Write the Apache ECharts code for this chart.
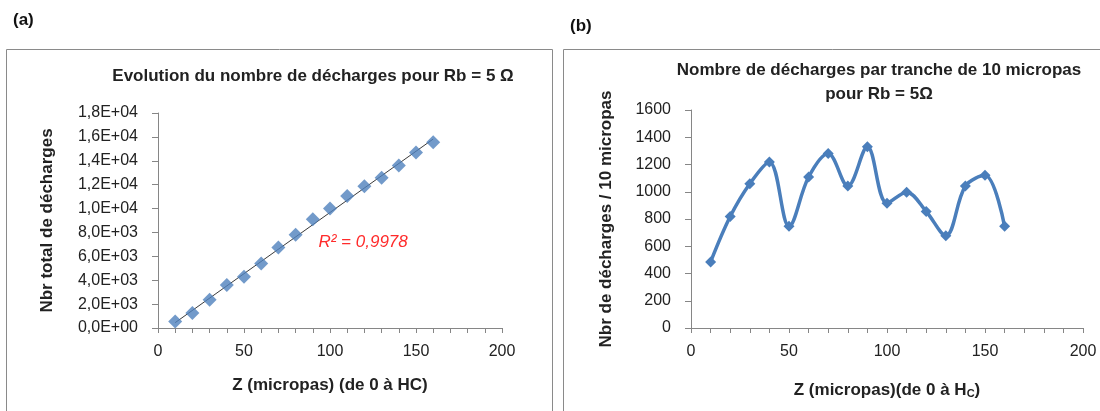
<!DOCTYPE html>
<html>
<head>
<meta charset="utf-8">
<script src="https://cdn.jsdelivr.net/npm/echarts@6/dist/echarts.min.js"></script>
<style>
html,body{margin:0;padding:0;background:#fff;}
#c{width:1100px;height:411px;}
</style>
</head>
<body>
<div id="c"></div>
<script>
// ---- data ----
var zValues = [10,20,30,40,50,60,70,80,90,100,110,120,130,140,150,160];
var cumulDischarges = [550,1250,2360,3600,4300,5400,6750,7800,9100,10000,11050,11860,12580,13600,14700,15550];
var trendZ = [10,160];
var trendValues = [450,15820];
var dischargesPer10 = [485,818,1059,1219,746,1108,1281,1042,1330,916,997,855,677,1042,1121,746];
var xTickLabels = ['0','50','100','150','200'];
var yTickLabelsA = ['0,0E+00','2,0E+03','4,0E+03','6,0E+03','8,0E+03','1,0E+04','1,2E+04','1,4E+04','1,6E+04','1,8E+04'];
var yTickLabelsB = ['0','200','400','600','800','1000','1200','1400','1600'];
var r2Text = 'R² = 0,9978';
var r2Anchor = [93, 7200];

var FONT = 'Liberation Sans, Arial, sans-serif';
var TXT = '#222222';
var AXIS = '#868686';
var BLUE = '#4F81BD';

function pairs(xs, ys){ return xs.map(function(x,i){ return [x, ys[i]]; }); }
function xFmt(v){ return (v % 50 === 0) ? xTickLabels[v/50] : ''; }

var axisCommon = {
  axisLine:{show:true, lineStyle:{color:AXIS, width:1}},
  axisTick:{show:true, inside:false, length:5, lineStyle:{color:AXIS}},
  splitLine:{show:false},
  nameTextStyle:{fontFamily:FONT, fontSize:17, fontWeight:'bold', color:TXT}
};
function mk(o){ var r = JSON.parse(JSON.stringify(axisCommon)); for (var k in o) r[k]=o[k]; return r; }

var chart = echarts.init(document.getElementById('c'), null, {renderer:'canvas'});
chart.setOption({
  animation:false,
  backgroundColor:'#fff',
  title:[
    {text:'Evolution du nombre de décharges pour Rb = 5 Ω', left:308, top:63, textAlign:'center',
     textStyle:{fontFamily:FONT, fontSize:17, fontWeight:'bold', color:TXT}},
    {text:'Nombre de décharges par tranche de 10 micropas\npour Rb = 5Ω', left:874, top:53, textAlign:'center',
     textStyle:{fontFamily:FONT, fontSize:17, fontWeight:'bold', color:TXT, lineHeight:24}}
  ],
  graphic:[
    {type:'rect', shape:{x:6.5, y:49.5, width:546, height:400}, style:{fill:'none', stroke:'#8a8a8a', lineWidth:1}},
    {type:'rect', shape:{x:563.5, y:49.5, width:560, height:400}, style:{fill:'none', stroke:'#8a8a8a', lineWidth:1}},
    {type:'text', left:13, top:12, style:{text:'(a)', fontFamily:FONT, fontSize:17, fontWeight:'bold', fill:'#111'}},
    {type:'text', left:570, top:18, style:{text:'(b)', fontFamily:FONT, fontSize:17, fontWeight:'bold', fill:'#111'}}
  ],
  grid:[
    {left:158, top:113, width:344, height:215, outerBoundsMode:'none', containLabel:false},
    {left:691, top:110, width:392, height:218, outerBoundsMode:'none', containLabel:false}
  ],
  xAxis:[
    mk({gridIndex:0, type:'value', min:0, max:200, interval:10,
      name:'Z (micropas) (de 0 à HC)', nameLocation:'middle', nameGap:49,
      axisLabel:{formatter:xFmt, fontFamily:FONT, fontSize:16, color:TXT, margin:16, showMinLabel:true, showMaxLabel:true}}),
    mk({gridIndex:1, type:'value', min:0, max:200, interval:10,
      name:'{a|Z (micropas)(de 0 à H}{s|C}{a|)}', nameLocation:'middle', nameGap:53,
      nameTextStyle:{rich:{
        a:{fontFamily:FONT, fontSize:17, fontWeight:'bold', color:TXT, lineHeight:18, verticalAlign:'bottom'},
        s:{fontFamily:FONT, fontSize:11, fontWeight:'bold', color:TXT, lineHeight:6, verticalAlign:'bottom'}
      }},
      axisLabel:{formatter:xFmt, fontFamily:FONT, fontSize:16, color:TXT, margin:16, showMinLabel:true, showMaxLabel:true}})
  ],
  yAxis:[
    mk({gridIndex:0, type:'value', min:0, max:18000, interval:2000,
      name:'Nbr total de décharges', nameLocation:'middle', nameGap:102,
      axisTick:{show:true, length:6, lineStyle:{color:AXIS}},
      axisLabel:{formatter:function(v){ return yTickLabelsA[Math.round(v/2000)]; }, fontFamily:FONT, fontSize:16, color:TXT, margin:20}}),
    mk({gridIndex:1, type:'value', min:0, max:1600, interval:200,
      name:'Nbr de décharges / 10 micropas', nameLocation:'middle', nameGap:76,
      axisTick:{show:true, length:6, lineStyle:{color:AXIS}},
      axisLabel:{formatter:function(v){ return yTickLabelsB[Math.round(v/200)]; }, fontFamily:FONT, fontSize:16, color:TXT, margin:20}})
  ],
  series:[
    {type:'line', xAxisIndex:0, yAxisIndex:0, data:pairs(trendZ, trendValues), symbol:'none',
     lineStyle:{color:'#3a3a3a', width:1}, z:2,
     markPoint:{symbol:'rect', symbolSize:1, itemStyle:{color:'rgba(0,0,0,0)'},
       label:{show:true, position:'right', distance:0, formatter:r2Text, fontFamily:FONT, fontSize:17, fontStyle:'italic', color:'#ff2b2b'},
       data:[{coord:r2Anchor}]}},
    {type:'scatter', xAxisIndex:0, yAxisIndex:0, data:pairs(zValues, cumulDischarges), symbol:'diamond', symbolSize:[14,14],
     itemStyle:{color:BLUE}, z:3},
    {type:'line', xAxisIndex:1, yAxisIndex:1, data:pairs(zValues, dischargesPer10), smooth:0.35,
     symbol:'diamond', symbolSize:[11,11], showSymbol:true,
     lineStyle:{color:'#4A7EBB', width:3.5}, itemStyle:{color:'#4A7EBB'}}
  ]
});
</script>
</body>
</html>
